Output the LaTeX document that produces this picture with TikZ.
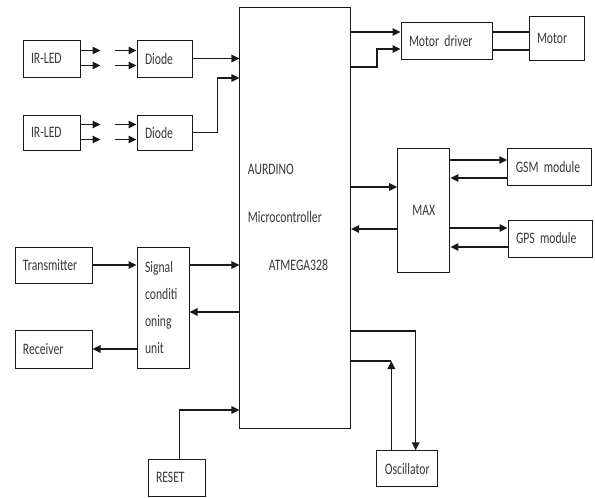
\documentclass[tikz,border=0pt]{standalone}
\usepackage{fontspec}
\setmainfont{Carlito}[FakeStretch=0.73]
\usepackage{tikz}
\usetikzlibrary{arrows.meta}
\definecolor{ink}{RGB}{25,25,25}
\definecolor{txt}{RGB}{55,55,55}

\begin{document}
\begin{tikzpicture}[x=1pt, y=-1pt, every node/.style={inner sep=0pt},
  blk/.style={draw=ink, line width=1pt, text=txt, font=\fontsize{16}{18}\selectfont,
    align=left, inner xsep=8pt, minimum height=37pt},
  arrow/.style={-{Triangle[length=8pt,width=7.5pt]}, ink, line width=1.4pt},
  wire/.style={ink, line width=1.2pt}]
\useasboundingbox (0,0) rectangle (595,498);

% blocks
\node[blk, text width=41pt] (irled1) at (51.5,58.5) {IR-LED};
\node[blk, text width=41pt, minimum height=35pt] (irled2) at (51.5,132.5) {IR-LED};
\node[blk, text width=39pt] (diode1) at (164.5,58.5) {Diode};
\node[blk, text width=39pt, minimum height=35pt] (diode2) at (164.5,132.5) {Diode};
\node[blk, text width=94.7pt, minimum height=421pt, font=\fontsize{16}{48}\selectfont]
  (mcu) at (295.3,217.5) {AURDINO\\Microcontroller\\\hspace*{21pt}ATMEGA328};
\node[blk, text width=75pt] (mdriver) at (446.5,41.3) {Motor driver};
\node[blk, text width=39pt, minimum height=44pt] (motor) at (556.5,38) {Motor};
\node[blk, align=center, minimum width=52.3pt, minimum height=124pt] (max) at (423.8,210) {MAX};
\node[blk, text width=68pt] (gsm) at (549.8,167.3) {GSM module};
\node[blk, text width=68pt] (gps) at (550,238.5) {GPS module};
\node[blk, text width=61pt, minimum height=36pt] (trans) at (53.5,265) {Transmitter};
\node[blk, text width=36pt, minimum height=121pt, font=\fontsize{16}{27}\selectfont]
  (sig) at (163,307.5) {Signal\\conditi\\oning\\unit};
\node[blk, text width=61pt, minimum height=38pt] (recv) at (53.5,349) {Receiver};
\node[blk, text width=41pt] (reset) at (176.5,477.5) {RESET};
\node[blk, text width=45pt, minimum height=36pt] (osc) at (407.3,468.8) {Oscillator};

% sensors to controller
\foreach \led/\dio in {irled1/diode1, irled2/diode2} {
  \draw[arrow] ([yshift=8pt]\led.east) -- ++(20,0);
  \draw[arrow] ([yshift=-7pt]\led.east) -- ++(20,0);
  \draw[arrow] ([yshift=8pt,xshift=-22pt]\dio.west) -- ([yshift=8pt]\dio.west);
  \draw[arrow] ([yshift=-7pt,xshift=-22pt]\dio.west) -- ([yshift=-7pt]\dio.west);
}
\draw[arrow] (diode1.east) -- (diode1.east -| mcu.west);
\draw[arrow] (diode2.east) -- ++(25,0) |- (mcu.west |- 0,78);

% motor
\draw[arrow] (mcu.east |- 0,32) -- (mdriver.west |- 0,32);
\draw[arrow] (mcu.east |- 0,67) -- ++(26,0) |- (mdriver.west |- 0,49);
\draw[wire] (mdriver.east |- 0,32) -- (motor.west |- 0,32);
\draw[wire] (mdriver.east |- 0,50) -- (motor.west |- 0,50);

% MAX and modules
\draw[arrow] (mcu.east |- 0,187) -- (max.west |- 0,187);
\draw[arrow] (max.west |- 0,229) -- (mcu.east |- 0,229);
\draw[arrow] (max.east |- 0,160) -- (gsm.west |- 0,160);
\draw[arrow] (gsm.west |- 0,178) -- (max.east |- 0,178);
\draw[arrow] (max.east |- 0,228) -- (gps.west |- 0,228);
\draw[arrow] (gps.west |- 0,247) -- (max.east |- 0,247);

% signal conditioning
\draw[arrow] (trans.east) -- (trans.east -| sig.west);
\draw[arrow] (sig.east |- trans.east) -- (mcu.west |- trans.east);
\draw[arrow] (mcu.west |- 0,312) -- (sig.east |- 0,312);
\draw[arrow] (sig.west |- recv.east) -- (recv.east);

% reset and oscillator
\draw[arrow] ([xshift=3pt]reset.north) |- (mcu.west |- 0,410);
\draw[arrow] (mcu.east |- 0,331) -| ([xshift=8.4pt]osc.north);
\coordinate (oscup) at ([xshift=-16pt]osc.north |- 0,361);
\draw[arrow] ([xshift=-16pt]osc.north) -- (oscup);
\draw[wire] (mcu.east |- oscup) -- (oscup);
\end{tikzpicture}
\end{document}
